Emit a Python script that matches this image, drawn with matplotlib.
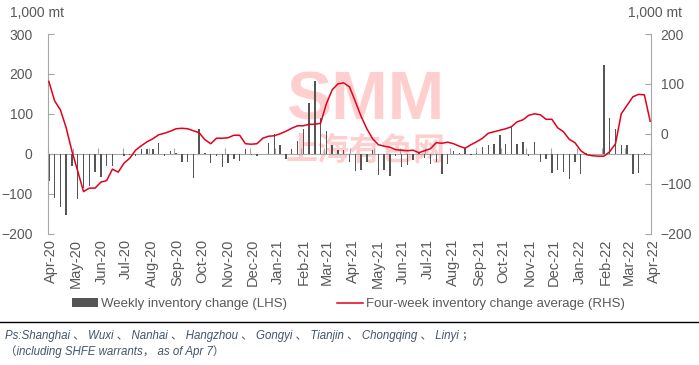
import numpy as np
import pandas as pd
import matplotlib
matplotlib.use("Agg")
import matplotlib.pyplot as plt
import matplotlib.transforms as mtransforms
from matplotlib.lines import Line2D

plt.rcParams['font.family'] = ['Liberation Sans', 'Noto Sans CJK SC', 'DejaVu Sans']

# weekly dates (Thursdays)
dates = pd.date_range('2020-04-02', periods=105, freq='7D')

# weekly inventory change, 1,000 mt (LHS)
weekly = [-68, -110, -133, -153, -31, -113, -85, -82, -46, -58,
          -31, -32, 0, -6, -4, -6, 11, 13, 13, 26,
          -6, 6, 3, -22, -22, -60, 61, 3, -23, -6,
          -33, -23, -14, -18, 11, -4, -6, 0, 28, 50,
          21, -14, 13, 33, 61, 126, 181, 90, 56, 23,
          9, 9, -20, -43, -42, -22, 10, -53, -42, -56,
          -6, -33, -29, -17, 5, -10, -26, -21, -50, -25,
          8, 3, 14, -3, 3, 16, 22, 25, 47, 25,
          70, 25, 30, -6, 30, -21, -14, -48, -41, -46,
          -63, -21, -50, 3, 0, 0, 223, 90, 61, 21,
          23, -50, -49, 3, 0]

# four-week average, 1,000 mt (RHS)
avg4 = [105, 66, 48, 12, -35, -75, -116, -109, -109, -97,
        -94, -71, -77, -59, -49, -33, -24, -16, -10, -2,
        1, 5, 10, 11, 10, 6, 2, -12, -20, -9,
        -9, -8, -3, -3, -20, -21, -20, -9, -5, -4,
        0, 5, 11, 16, 16, 19, 19, 21, 60, 88,
        100, 102, 94, 65, 35, 10, -10, -22, -25, -27,
        -32, -33, -34, -33, -38, -34, -30, -18, -19, -17,
        -20, -25, -29, -22, -16, -9, 1, 4, 7, 10,
        14, 24, 28, 37, 40, 38, 29, 29, 12, 4,
        -11, -18, -34, -42, -44, -45, -45, -36, -20, 40,
        57, 74, 79, 78, 25]

left_ticks = [-200, -100, 0, 100, 200, 300]
right_ticks = [-200, -100, 0, 100, 200]

gray_txt = '#595959'
axis_gray = '#A6A6A6'
red = '#E3001B'

fig = plt.figure(figsize=(6.99, 3.65), dpi=100)
ax = fig.add_axes([48 / 699, 1 - 233.5 / 365, 603 / 699, 199.5 / 365])
ax2 = ax.twinx()

bars = ax.bar(dates, weekly, width=1.7, color='#555555', zorder=2,
              label='Weekly inventory change (LHS)')
line, = ax2.plot(dates, avg4, color=red, lw=1.1, zorder=3,
                 label='Four-week inventory change average (RHS)')

ax.set_ylim(-200, 300)
ax2.set_ylim(-200, 200)
ax.set_yticks(left_ticks)
ax2.set_yticks(right_ticks)
ax.set_xlim(pd.Timestamp('2020-04-01'), pd.Timestamp('2022-04-01'))

for s in ['top', 'bottom']:
    ax.spines[s].set_visible(False)
    ax2.spines[s].set_visible(False)
ax.spines['right'].set_visible(False)
ax2.spines['left'].set_visible(False)
ax.spines['left'].set_color(axis_gray)
ax2.spines['right'].set_color(axis_gray)

ax.tick_params(axis='y', direction='in', length=4, color=axis_gray,
               labelsize=10, labelcolor=gray_txt, pad=11)
ax2.tick_params(axis='y', direction='in', length=4, color=axis_gray,
                labelsize=10, labelcolor=gray_txt, pad=7)

# month labels at the bottom of the plot
months = pd.date_range('2020-04-01', '2022-04-01', freq='MS')
ax.set_xticks(months)
ax.set_xticklabels([d.strftime('%b-%y') for d in months], rotation=90,
                   fontsize=10.5, color=gray_txt)
ax.tick_params(axis='x', length=0, pad=4)
shift = mtransforms.ScaledTranslation(3 / 100, 0, fig.dpi_scale_trans)
for lab in ax.get_xticklabels():
    lab.set_transform(lab.get_transform() + shift)

# category axis line at zero with short upward month ticks
zero_frac = (0 - (-200)) / (300 - (-200))
sec = ax.secondary_xaxis(zero_frac)
sec.set_xticks(months)
sec.tick_params(axis='x', direction='in', length=4, color=axis_gray,
                labelbottom=False, labeltop=False)
sec.spines['bottom'].set_color(axis_gray)
sec.spines['top'].set_visible(False)

# watermark
ax.text(0.526, 0.66, 'SMM', transform=ax.transAxes, ha='center', va='center',
        fontsize=49, fontweight='bold', color='#FFCFCF', zorder=0,
        family=['Liberation Sans'])
ax.text(0.526, 0.415, '上海有色网', transform=ax.transAxes, ha='center',
        va='center', fontsize=23, fontweight='bold', color='#FFCFCF', zorder=0,
        family=['Noto Sans CJK SC'])

fig.text(10 / 699, 1 - 13 / 365, '1,000 mt', fontsize=10, color=gray_txt,
         va='center', ha='left')
fig.text(682 / 699, 1 - 13 / 365, '1,000 mt', fontsize=10, color=gray_txt,
         va='center', ha='right')

fig.legend([bars, line], [bars.get_label(), line.get_label()],
           loc='center', bbox_to_anchor=(0.498, 1 - 304 / 365), ncol=2,
           frameon=False, fontsize=9.5, labelcolor=gray_txt,
           handlelength=2.0, handletextpad=0.2, columnspacing=3.8)

fig.add_artist(Line2D([0, 1], [1 - 322 / 365] * 2, transform=fig.transFigure,
                      color='black', lw=1))

note_font = ['Liberation Sans', 'Noto Sans CJK SC']
fig.text(5 / 699, 1 - 336 / 365,
         'Ps:Shanghai 、 Wuxi 、 Nanhai 、 Hangzhou 、 Gongyi 、 Tianjin 、 Chongqing 、 Linyi ；',
         fontsize=8.3, style='italic', color='#44546A', va='center',
         family=note_font)
fig.text(5 / 699, 1 - 352 / 365, '（including SHFE warrants， as of Apr 7）',
         fontsize=8.3, style='italic', color='#44546A', va='center',
         family=note_font)

fig.savefig('out.png', dpi=100)
